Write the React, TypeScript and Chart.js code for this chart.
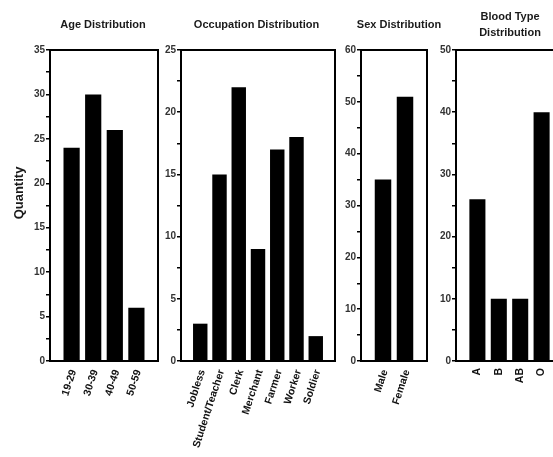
import React, { useEffect, useRef } from 'react';
import { Chart, registerables } from 'chart.js';

Chart.register(...registerables);

// ---- Data ----
const ageCategories = ['19-29', '30-39', '40-49', '50-59'];
const ageValues = [24, 30, 26, 6];
const occupationCategories = ['Jobless', 'Student/Teacher', 'Clerk', 'Merchant', 'Farmer', 'Worker', 'Soldier'];
const occupationValues = [3, 15, 22, 9, 17, 18, 2];
const sexCategories = ['Male', 'Female'];
const sexValues = [35, 51];
const bloodCategories = ['A', 'B', 'AB', 'O'];
const bloodValues = [26, 10, 10, 40];

const ageTitle = ['Age Distribution'];
const occupationTitle = ['Occupation Distribution'];
const sexTitle = ['Sex Distribution'];
const bloodTitle = ['Blood Type', 'Distribution'];
const yAxisTitle = 'Quantity';

// y-axis ranges: [max, minor step, labelled step]
const ageYAxis = [35, 2.5, 5];
const occupationYAxis = [25, 2.5, 5];
const sexYAxis = [60, 5, 10];
const bloodYAxis = [50, 5, 10];

const FONT = "'Liberation Sans', Arial, Helvetica, sans-serif";

const framePlugin = {
  id: 'frame',
  afterDatasetsDraw(chart: any) {
    const { ctx, chartArea: a } = chart;
    ctx.save();
    ctx.strokeStyle = '#000';
    ctx.lineWidth = 2;
    ctx.strokeRect(a.left, a.top, a.right - a.left, a.bottom - a.top);
    ctx.restore();
  },
};

const panelTitlePlugin = {
  id: 'panelTitle',
  afterDraw(chart: any, _args: any, opts: any) {
    const { ctx, chartArea: a } = chart;
    const lines: string[] = opts.lines || [];
    ctx.save();
    ctx.font = `bold 11px ${FONT}`;
    ctx.fillStyle = '#1a1a1a';
    ctx.textAlign = 'center';
    ctx.textBaseline = 'middle';
    const cx = (a.left + a.right) / 2 + (opts.dx || 0);
    const lh = opts.lineHeight || 15;
    const y0 = opts.y - ((lines.length - 1) * lh) / 2;
    lines.forEach((l, i) => ctx.fillText(l, cx, y0 + i * lh));
    if (opts.sideLabel) {
      ctx.translate(opts.sideX, opts.sideY);
      ctx.rotate(-Math.PI / 2);
      ctx.font = `bold 13px ${FONT}`;
      ctx.fillText(opts.sideLabel, 0, 0);
    }
    ctx.restore();
  },
};

type PanelCfg = {
  categories: string[];
  values: number[];
  title: string[];
  yAxis: number[];
  x: number;
  w: number;
  yw: number;
  pr: number;
  dx: number;
  rot: number;
  sideLabel?: string;
};

const panels: PanelCfg[] = [
  { categories: ageCategories, values: ageValues, title: ageTitle, yAxis: ageYAxis, x: 0, w: 170, yw: 50, pr: 12, dx: -1, rot: 72, sideLabel: yAxisTitle },
  { categories: occupationCategories, values: occupationValues, title: occupationTitle, yAxis: occupationYAxis, x: 159, w: 190, yw: 22, pr: 14, dx: -1.5, rot: 72 },
  { categories: sexCategories, values: sexValues, title: sexTitle, yAxis: sexYAxis, x: 339, w: 115, yw: 22, pr: 27, dx: 5, rot: 72 },
  { categories: bloodCategories, values: bloodValues, title: bloodTitle, yAxis: bloodYAxis, x: 433, w: 135, yw: 23, pr: 5, dx: 0.5, rot: 90 },
];

function Panel({ cfg }: { cfg: PanelCfg }) {
  const ref = useRef<HTMLCanvasElement>(null);
  useEffect(() => {
    const [ymax, minor, major] = cfg.yAxis;
    const chart = new Chart(ref.current as HTMLCanvasElement, {
      type: 'bar',
      data: {
        datasets: [
          {
            data: cfg.values.map((v, i) => ({ x: i, y: v })) as any,
            backgroundColor: '#000',
            borderWidth: 0,
            barPercentage: 0.75,
            categoryPercentage: 1,
          },
        ],
      },
      options: {
        responsive: false,
        animation: false,
        layout: { padding: { top: 50, right: cfg.pr, left: 0, bottom: 0 } },
        plugins: {
          legend: { display: false },
          tooltip: { enabled: false },
          title: { display: false },
          panelTitle: {
            lines: cfg.title,
            dx: cfg.dx,
            y: 25,
            lineHeight: 15.4,
            sideLabel: cfg.sideLabel,
            sideX: 19,
            sideY: 193,
          },
        } as any,
        scales: {
          x: {
            type: 'linear',
            min: -1,
            max: cfg.categories.length,
            offset: false,
            afterBuildTicks: (s: any) => {
              s.ticks = cfg.categories.map((_, i) => ({ value: i }));
            },
            afterFit: (s: any) => {
              s.height = 96;
              s.paddingLeft = 0;
              s.paddingRight = 0;
            },
            grid: { display: false },
            border: { display: true, color: '#000', width: 2 },
            ticks: {
              autoSkip: false,
              minRotation: cfg.rot,
              maxRotation: cfg.rot,
              padding: -1,
              labelOffset: cfg.rot === 90 ? 0 : 2,
              color: '#111',
              font: { family: FONT, size: 10.5, weight: 'bold' },
              callback: (v: any) => cfg.categories[v] ?? '',
            },
          },
          y: {
            min: 0,
            max: ymax,
            afterFit: (s: any) => {
              s.width = cfg.yw;
              s.paddingTop = 0;
              s.paddingBottom = 0;
            },
            grid: { display: true, drawOnChartArea: false, drawTicks: true, tickLength: 4, color: '#000', lineWidth: 1.5 },
            border: { display: true, color: '#000', width: 2 },
            ticks: {
              stepSize: minor,
              autoSkip: false,
              padding: 1,
              color: '#333',
              font: { family: FONT, size: 10, weight: 'bold' },
              callback: (v: any) => (Math.abs(v / major - Math.round(v / major)) < 1e-6 ? String(v) : ''),
            },
          },
        },
      } as any,
      plugins: [framePlugin, panelTitlePlugin],
    });
    return () => chart.destroy();
  }, []);
  return (
    <canvas
      ref={ref}
      width={cfg.w}
      height={457}
      style={{ position: 'absolute', left: cfg.x, top: 0, width: cfg.w, height: 457 }}
    />
  );
}

export default function App() {
  useEffect(() => {
    document.body.style.margin = '0';
  }, []);
  return (
    <div style={{ position: 'absolute', left: 0, top: 0, width: 553, height: 457, overflow: 'hidden', background: '#fff' }}>
      {panels.map((p, i) => (
        <Panel key={i} cfg={p} />
      ))}
    </div>
  );
}
